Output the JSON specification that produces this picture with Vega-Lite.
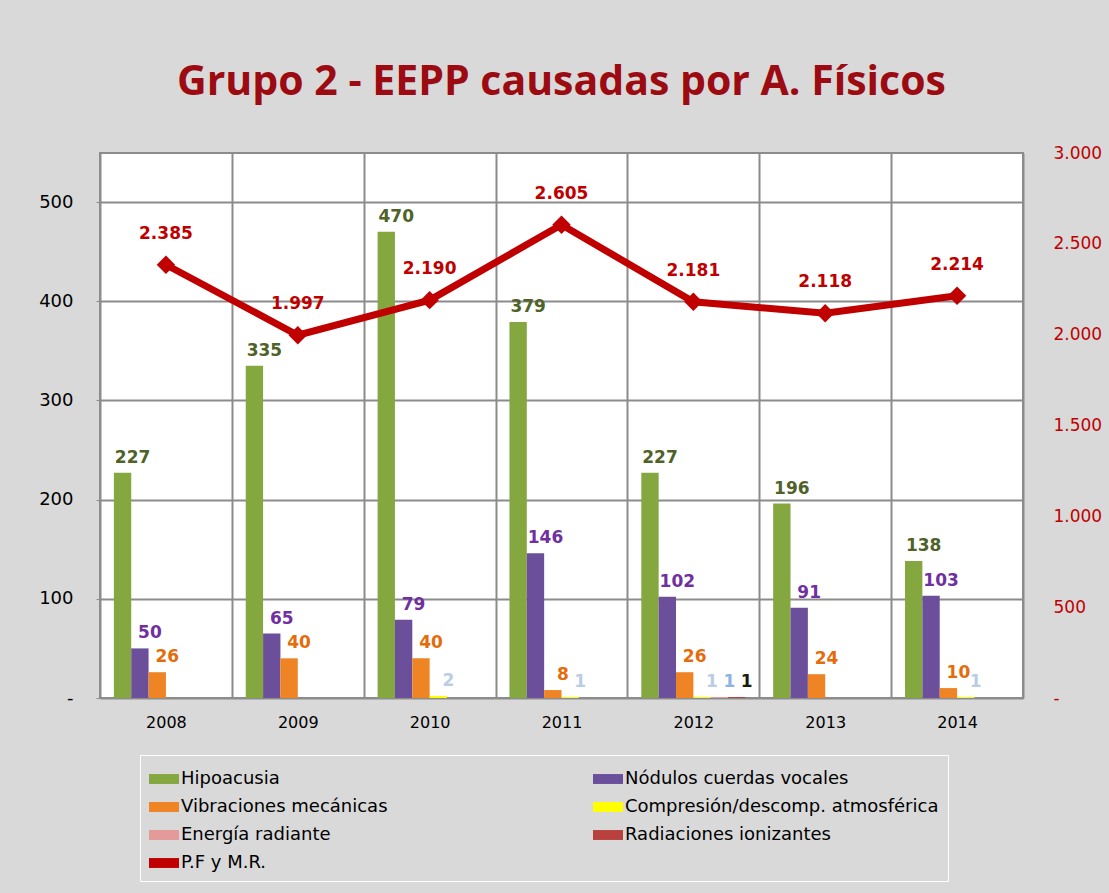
{
  "$schema": "https://vega.github.io/schema/vega-lite/v6.json",
  "width": 923,
  "height": 545,
  "autosize": {"type": "none"},
  "padding": {"left": 100, "top": 153, "right": 86, "bottom": 195},
  "background": "#d9d9d9",
  "config": {
    "locale": {"number": {"decimal": ",", "thousands": ".", "grouping": [3], "currency": ["", " €"]}},
    "view": {"fill": "white", "stroke": "#8c8c8c", "strokeWidth": 2},
    "font": "DejaVu Sans"
  },
  "title": {
    "text": "Grupo 2 - EEPP causadas por A. Físicos",
    "fontSize": 41,
    "font": "Open Sans",
    "fontWeight": "bold",
    "color": "#9c0a12",
    "anchor": "middle",
    "offset": 40
  },
  "datasets": {
    "casos": [
      {"year": "2008", "series": "Hipoacusia", "value": 227},
      {"year": "2008", "series": "Nódulos cuerdas vocales", "value": 50},
      {"year": "2008", "series": "Vibraciones mecánicas", "value": 26},
      {"year": "2008", "series": "Compresión/descomp. atmosférica", "value": 0},
      {"year": "2008", "series": "Energía radiante", "value": 0},
      {"year": "2008", "series": "Radiaciones  ionizantes", "value": 0},
      {"year": "2009", "series": "Hipoacusia", "value": 335},
      {"year": "2009", "series": "Nódulos cuerdas vocales", "value": 65},
      {"year": "2009", "series": "Vibraciones mecánicas", "value": 40},
      {"year": "2009", "series": "Compresión/descomp. atmosférica", "value": 0},
      {"year": "2009", "series": "Energía radiante", "value": 0},
      {"year": "2009", "series": "Radiaciones  ionizantes", "value": 0},
      {"year": "2010", "series": "Hipoacusia", "value": 470},
      {"year": "2010", "series": "Nódulos cuerdas vocales", "value": 79},
      {"year": "2010", "series": "Vibraciones mecánicas", "value": 40},
      {"year": "2010", "series": "Compresión/descomp. atmosférica", "value": 2},
      {"year": "2010", "series": "Energía radiante", "value": 0},
      {"year": "2010", "series": "Radiaciones  ionizantes", "value": 0},
      {"year": "2011", "series": "Hipoacusia", "value": 379},
      {"year": "2011", "series": "Nódulos cuerdas vocales", "value": 146},
      {"year": "2011", "series": "Vibraciones mecánicas", "value": 8},
      {"year": "2011", "series": "Compresión/descomp. atmosférica", "value": 1},
      {"year": "2011", "series": "Energía radiante", "value": 0},
      {"year": "2011", "series": "Radiaciones  ionizantes", "value": 0},
      {"year": "2012", "series": "Hipoacusia", "value": 227},
      {"year": "2012", "series": "Nódulos cuerdas vocales", "value": 102},
      {"year": "2012", "series": "Vibraciones mecánicas", "value": 26},
      {"year": "2012", "series": "Compresión/descomp. atmosférica", "value": 1},
      {"year": "2012", "series": "Energía radiante", "value": 1},
      {"year": "2012", "series": "Radiaciones  ionizantes", "value": 1},
      {"year": "2013", "series": "Hipoacusia", "value": 196},
      {"year": "2013", "series": "Nódulos cuerdas vocales", "value": 91},
      {"year": "2013", "series": "Vibraciones mecánicas", "value": 24},
      {"year": "2013", "series": "Compresión/descomp. atmosférica", "value": 0},
      {"year": "2013", "series": "Energía radiante", "value": 0},
      {"year": "2013", "series": "Radiaciones  ionizantes", "value": 0},
      {"year": "2014", "series": "Hipoacusia", "value": 138},
      {"year": "2014", "series": "Nódulos cuerdas vocales", "value": 103},
      {"year": "2014", "series": "Vibraciones mecánicas", "value": 10},
      {"year": "2014", "series": "Compresión/descomp. atmosférica", "value": 1},
      {"year": "2014", "series": "Energía radiante", "value": 0},
      {"year": "2014", "series": "Radiaciones  ionizantes", "value": 0}
    ],
    "pf": [
      {"year": "2008", "pf": 2385},
      {"year": "2009", "pf": 1997},
      {"year": "2010", "pf": 2190},
      {"year": "2011", "pf": 2605},
      {"year": "2012", "pf": 2181},
      {"year": "2013", "pf": 2118},
      {"year": "2014", "pf": 2214}
    ]
  },
  "encoding": {
    "x": {
      "field": "year",
      "type": "nominal",
      "scale": {"paddingInner": 0, "paddingOuter": 0},
      "axis": {
        "title": null,
        "tickBand": "extent",
        "grid": true,
        "gridColor": "#8c8c8c",
        "gridWidth": 2,
        "ticks": false,
        "domain": false,
        "labelAngle": 0,
        "labelFontSize": 16,
        "labelColor": "#000000",
        "labelPadding": 16,
        "labelFont": "DejaVu Sans"
      }
    }
  },
  "layer": [
    {
      "data": {"name": "casos"},
      "encoding": {
        "xOffset": {
          "field": "series",
          "scale": {
            "domain": ["Hipoacusia", "Nódulos cuerdas vocales", "Vibraciones mecánicas", "Compresión/descomp. atmosférica", "Energía radiante", "Radiaciones  ionizantes"],
            "paddingInner": 0,
            "paddingOuter": 0.8
          }
        },
        "y": {
          "field": "value",
          "type": "quantitative",
          "scale": {"domain": [0, 549.4], "nice": false, "zero": true},
          "axis": {
            "title": null,
            "values": [0, 100, 200, 300, 400, 500],
            "labelExpr": "datum.value === 0 ? '-' : datum.label",
            "grid": true,
            "gridColor": "#8c8c8c",
            "gridWidth": 2,
            "domain": false,
            "ticks": true,
            "tickColor": "#8c8c8c",
            "tickSize": 4,
            "labelFont": "DejaVu Sans",
            "labelFontSize": 18,
            "labelColor": "#000000",
            "labelPadding": 23
          }
        }
      },
      "layer": [
        {
          "mark": {"type": "bar"},
          "encoding": {
            "color": {
              "field": "series",
              "type": "nominal",
              "scale": {
                "domain": ["Hipoacusia", "Nódulos cuerdas vocales", "Vibraciones mecánicas", "Compresión/descomp. atmosférica", "Energía radiante", "Radiaciones  ionizantes", "P.F y M.R."],
                "range": ["#84a740", "#6b4f9b", "#ee8424", "#ffff00", "#e39a98", "#b8403d", "#c00000"]
              },
              "legend": {
                "title": null,
                "orient": "none",
                "legendX": 40,
                "legendY": 602,
                "columns": 2,
                "direction": "horizontal",
                "columnPadding": 205,
                "rowPadding": 4,
                "padding": 9,
                "fillColor": "#d9d9d9",
                "strokeColor": "#ffffff",
                "symbolType": "M-1,-0.33H1V0.33H-1Z",
                "symbolSize": 900,
                "symbolStrokeWidth": 0,
                "symbolOpacity": 1,
                "labelFontSize": 18,
                "labelFont": "DejaVu Sans",
                "labelColor": "#000000",
                "labelLimit": 400,
                "labelOffset": 2
              }
            }
          }
        },
        {
          "transform": [{"filter": "datum.value > 0"}],
          "mark": {"type": "text", "font": "DejaVu Sans", "fontWeight": "bold", "fontSize": 17, "baseline": "bottom", "dx": 10, "dy": -6},
          "encoding": {
            "text": {"field": "value", "type": "quantitative", "format": "d"},
            "fill": {
              "field": "series",
              "type": "nominal",
              "scale": {
                "domain": ["Hipoacusia", "Nódulos cuerdas vocales", "Vibraciones mecánicas", "Compresión/descomp. atmosférica", "Energía radiante", "Radiaciones  ionizantes"],
                "range": ["#4f6228", "#7030a0", "#e46c0a", "#b9cde5", "#8db3e2", "#1d1b10"]
              },
              "legend": null
            }
          }
        }
      ]
    },
    {
      "data": {"name": "pf"},
      "encoding": {
        "y": {
          "field": "pf",
          "type": "quantitative",
          "scale": {"domain": [0, 3000], "nice": false},
          "axis": {
            "orient": "right",
            "title": null,
            "values": [0, 500, 1000, 1500, 2000, 2500, 3000],
            "labelExpr": "datum.value === 0 ? '-' : replace(format(datum.value, ',d'), ',', '.')",
            "grid": false,
            "domain": false,
            "ticks": false,
            "labelFont": "DejaVu Sans",
            "labelFontSize": 17,
            "labelColor": "#c00000",
            "labelPadding": 30
          }
        }
      },
      "layer": [
        {
          "mark": {"type": "line", "strokeWidth": 7, "point": {"shape": "diamond", "size": 340, "filled": true}},
          "encoding": {"color": {"datum": "P.F y M.R."}}
        },
        {
          "mark": {"type": "text", "font": "DejaVu Sans", "fontWeight": "bold", "fontSize": 17, "color": "#c00000", "dy": -31},
          "encoding": {"text": {"field": "pf", "type": "quantitative", "format": ",d"}}
        }
      ]
    }
  ],
  "resolve": {"scale": {"y": "independent"}}
}
